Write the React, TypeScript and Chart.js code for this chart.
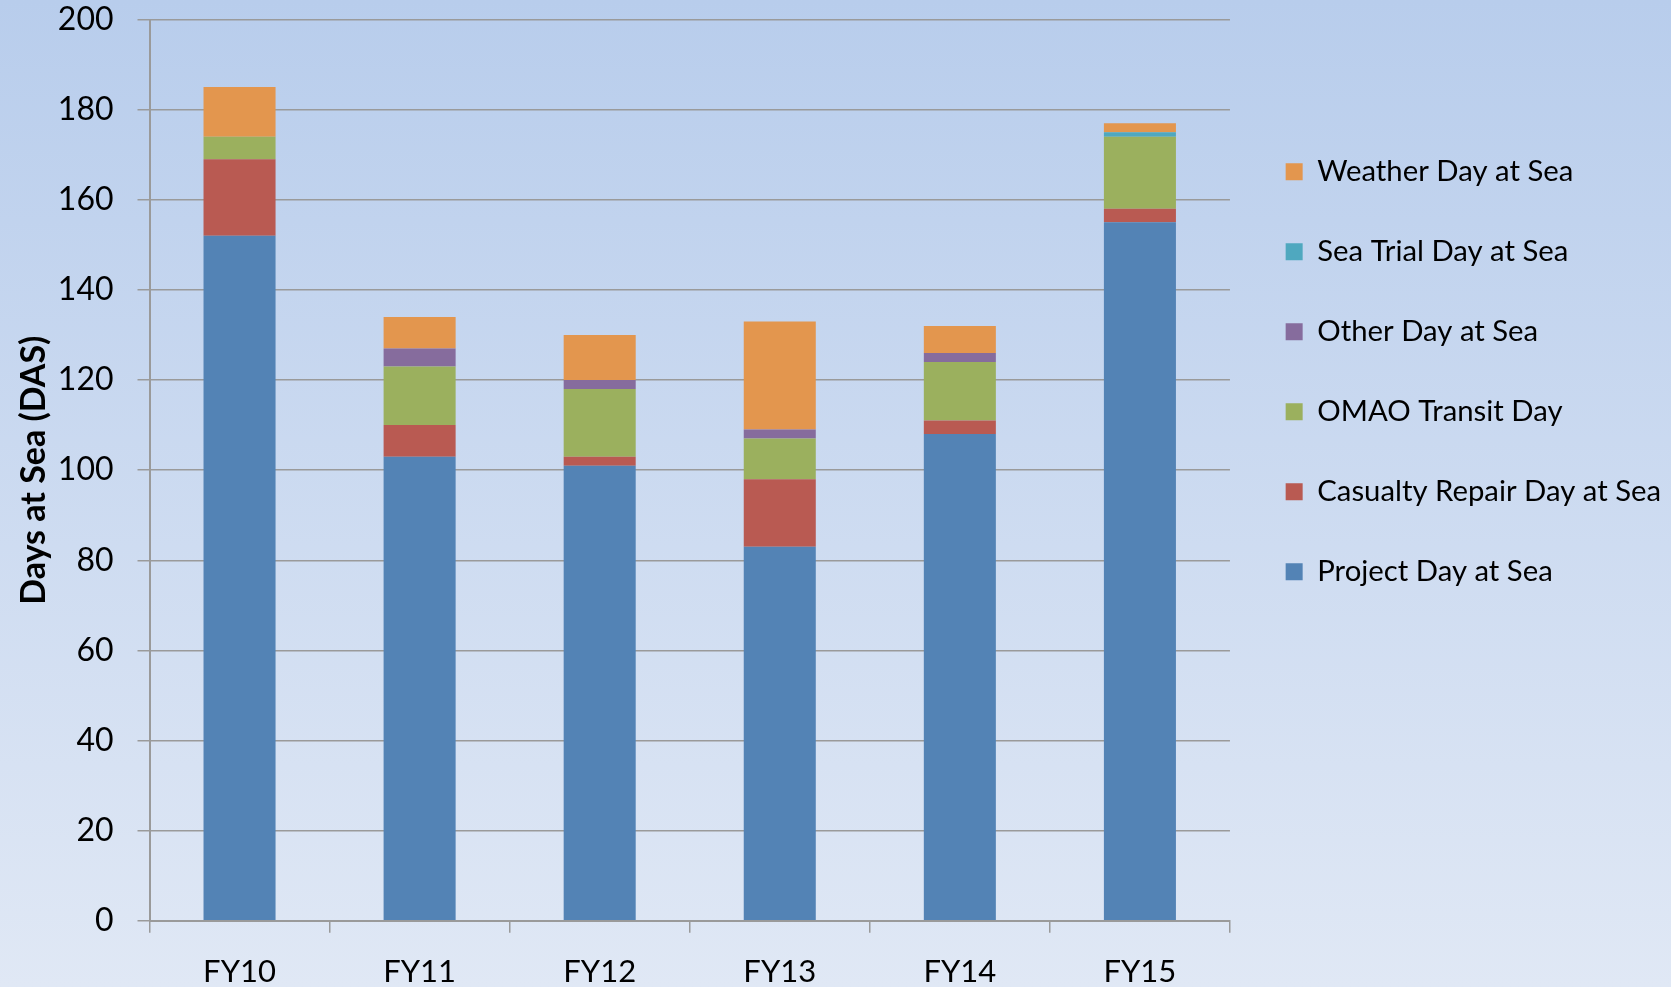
import React, { useEffect, useRef } from "react";
import { Chart, registerables } from "chart.js";

Chart.register(...registerables);

const categories = ["FY10", "FY11", "FY12", "FY13", "FY14", "FY15"];
const projectDays = [152, 103, 101, 83, 108, 155];
const casualtyRepairDays = [17, 7, 2, 15, 3, 3];
const omaoTransitDays = [5, 13, 15, 9, 13, 16];
const otherDays = [0, 4, 2, 2, 2, 0];
const seaTrialDays = [0, 0, 0, 0, 0, 1];
const weatherDays = [11, 7, 10, 24, 6, 2];
const yTicks = [0, 20, 40, 60, 80, 100, 120, 140, 160, 180, 200];

const FONT = "Lato, 'Open Sans', sans-serif";
const GRID = "#9A9A9A";
const LEFT_SHIFT = 1000;

export default function App() {
  const ref = useRef<HTMLCanvasElement | null>(null);
  useEffect(() => {
    if (!ref.current) return;
    const chart = new Chart(ref.current, {
      type: "bar",
      data: {
        labels: categories,
        datasets: [
          { label: "Project Day at Sea", data: projectDays, backgroundColor: "#5383B5" },
          { label: "Casualty Repair Day at Sea", data: casualtyRepairDays, backgroundColor: "#B95A52" },
          { label: "OMAO Transit Day", data: omaoTransitDays, backgroundColor: "#9BB05E" },
          { label: "Other Day at Sea", data: otherDays, backgroundColor: "#866C9D" },
          { label: "Sea Trial Day at Sea", data: seaTrialDays, backgroundColor: "#4FA8BF" },
          { label: "Weather Day at Sea", data: weatherDays, backgroundColor: "#E3964E" },
        ],
      },
      options: {
        responsive: false,
        animation: false,
        layout: { padding: { right: 0, top: 0, bottom: 0, left: -LEFT_SHIFT } },
        datasets: { bar: { barPercentage: 0.4, categoryPercentage: 1.0 } },
        plugins: {
          tooltip: { enabled: false },
          legend: {
            position: "right",
            align: "start",
            reverse: true,
            title: {
              display: true,
              text: " ",
              color: "rgba(0,0,0,0)",
              font: { size: 12 },
              padding: { top: 92, bottom: 0 },
            },
            labels: {
              boxWidth: 17,
              boxHeight: 17,
              padding: 50.7,
              color: "#000",
              font: { family: FONT, size: 29.3 },
            },
          },
        },
        scales: {
          x: {
            stacked: true,
            afterFit: (s: any) => {
              s.height = 66.2;
              s.paddingLeft = 0;
              s.paddingRight = 0;
            },
            grid: {
              drawOnChartArea: false,
              drawTicks: true,
              tickLength: 12,
              color: GRID,
              lineWidth: 1.5,
            },
            border: { color: GRID, width: 2 },
            ticks: {
              color: "#000",
              padding: 21,
              font: { family: FONT, size: 31 },
            },
          },
          y: {
            stacked: true,
            min: 0,
            max: 200,
            afterBuildTicks: (axis: any) => {
              axis.ticks = yTicks.map((v) => ({ value: v }));
            },
            afterFit: (s: any) => {
              s.width = 149.5 + LEFT_SHIFT;
              s.paddingTop = 19.5;
              s.paddingBottom = 0;
            },
            grid: {
              drawTicks: true,
              tickLength: 12,
              color: GRID,
              lineWidth: 1.5,
            },
            border: { color: GRID, width: 2 },
            ticks: {
              color: "#000",
              padding: 24,
              font: { family: FONT, size: 32 },
            },
            title: {
              display: true,
              text: "Days at Sea (DAS)",
              color: "#000",
              padding: { top: 14 + LEFT_SHIFT, bottom: 8 },
              font: { family: FONT, size: 34, weight: "bold" },
            },
          },
          spacer: {
            type: "linear",
            position: "right",
            display: true,
            afterFit: (s: any) => {
              s.width = 5;
            },
            grid: { display: false, drawTicks: false },
            border: { display: false },
            ticks: { display: false },
          },
        },
      },
    });
    return () => chart.destroy();
  }, []);
  return (
    <div
      style={{
        position: "fixed",
        left: 0,
        top: 0,
        width: 1671,
        height: 987,
        background: "linear-gradient(to bottom, #B8CDEC 0%, #E0E8F5 100%)",
      }}
    >
      <canvas ref={ref} width={1671} height={987} style={{ display: "block" }} />
    </div>
  );
}
